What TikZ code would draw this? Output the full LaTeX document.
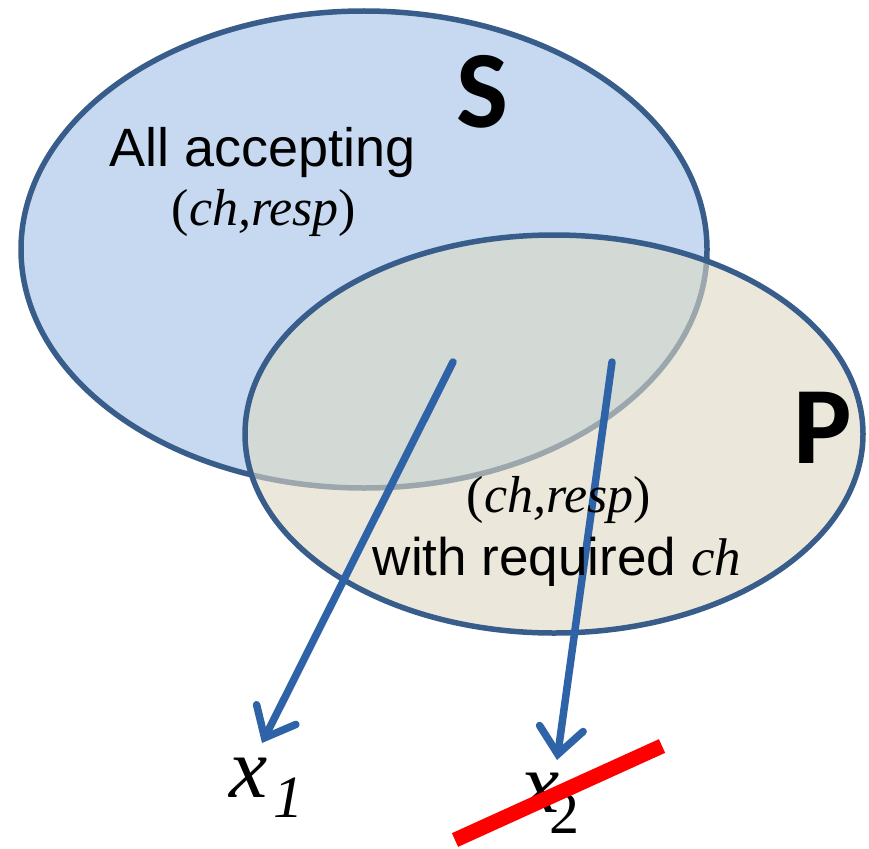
\documentclass[tikz,border=0pt]{standalone}
\usepackage{fontspec}
\setmainfont{Liberation Sans}
\newfontfamily\tnr{Liberation Serif}
\newfontfamily\calib{Carlito}
\usetikzlibrary{arrows.meta}
\definecolor{sfill}{HTML}{C6D9F1}
\definecolor{pfill}{HTML}{DDD9C3}
\definecolor{edge}{HTML}{385D8A}
\definecolor{arrowc}{HTML}{2F63A8}
\newcommand{\chresp}{{\upshape(}ch,resp{\upshape)}}
\tikzset{
  setshape/.style={draw=edge, line width=5.5pt},
  bigletter/.style={anchor=base west, inner sep=0pt, font=\calib\bfseries\fontsize{110}{110}\selectfont},
  sanstext/.style={anchor=base, inner sep=0pt, font=\fontsize{54}{54}\selectfont},
  mathtext/.style={anchor=base, inner sep=0pt, font=\tnr\itshape\fontsize{52}{52}\selectfont},
  varx/.style={anchor=base west, inner sep=0pt, font=\tnr\itshape\fontsize{86}{86}\selectfont},
  subidx/.style={anchor=base west, inner sep=0pt, font=\tnr\fontsize{60}{60}\selectfont},
  maparrow/.style={draw=arrowc, line width=7.5pt, line cap=round, -{Straight Barb[length=26pt,width=44pt,line cap=round]}},
  strike/.style={draw=red, line width=15pt}
}
\begin{document}
\begin{tikzpicture}[x=1pt,y=-1pt]
\useasboundingbox (0,0) rectangle (869,848);
% set S
\path[setshape, fill=sfill] (364,249.5) ellipse [x radius=343, y radius=238.5];
% set P (semi-transparent fill)
\path[setshape, fill=pfill, fill opacity=0.6] (554,434) ellipse [x radius=309, y radius=199];
% anchors for arrows
\coordinate (a1s) at (453,362);
\coordinate (a2s) at (612,362);
% element labels
\node[varx] (x1) at (229,797) {x};
\node[subidx, font=\tnr\itshape\fontsize{60}{60}\selectfont] (i1) at (273,817) {1};
\node[varx] (x2) at (521,812) {x};
\node[subidx] (i2) at (549,833) {2};
\coordinate (a1e) at (262,743);
\coordinate (a2e) at (557,760);
\draw[maparrow] (a1s) -- (a1e);
\draw[maparrow] (a2s) -- (a2e);
% texts
\node[bigletter] (S) at (456,128) {S};
\node[bigletter] (P) at (793,463) {P};
\node[sanstext] (all) at (263,166) {All accepting};
\node[mathtext] (cr1) at (264,225) {\chresp};
\node[mathtext] (cr2) at (559,512) {\chresp};
\node[sanstext, font=\fontsize{53}{53}\selectfont] (req) at (557,575) {with required {\tnr\itshape ch}};
% strike-through of x2
\coordinate (r1) at (455,840);
\coordinate (r2) at (662,746);
\draw[strike] (r1) -- (r2);
\end{tikzpicture}
\end{document}
